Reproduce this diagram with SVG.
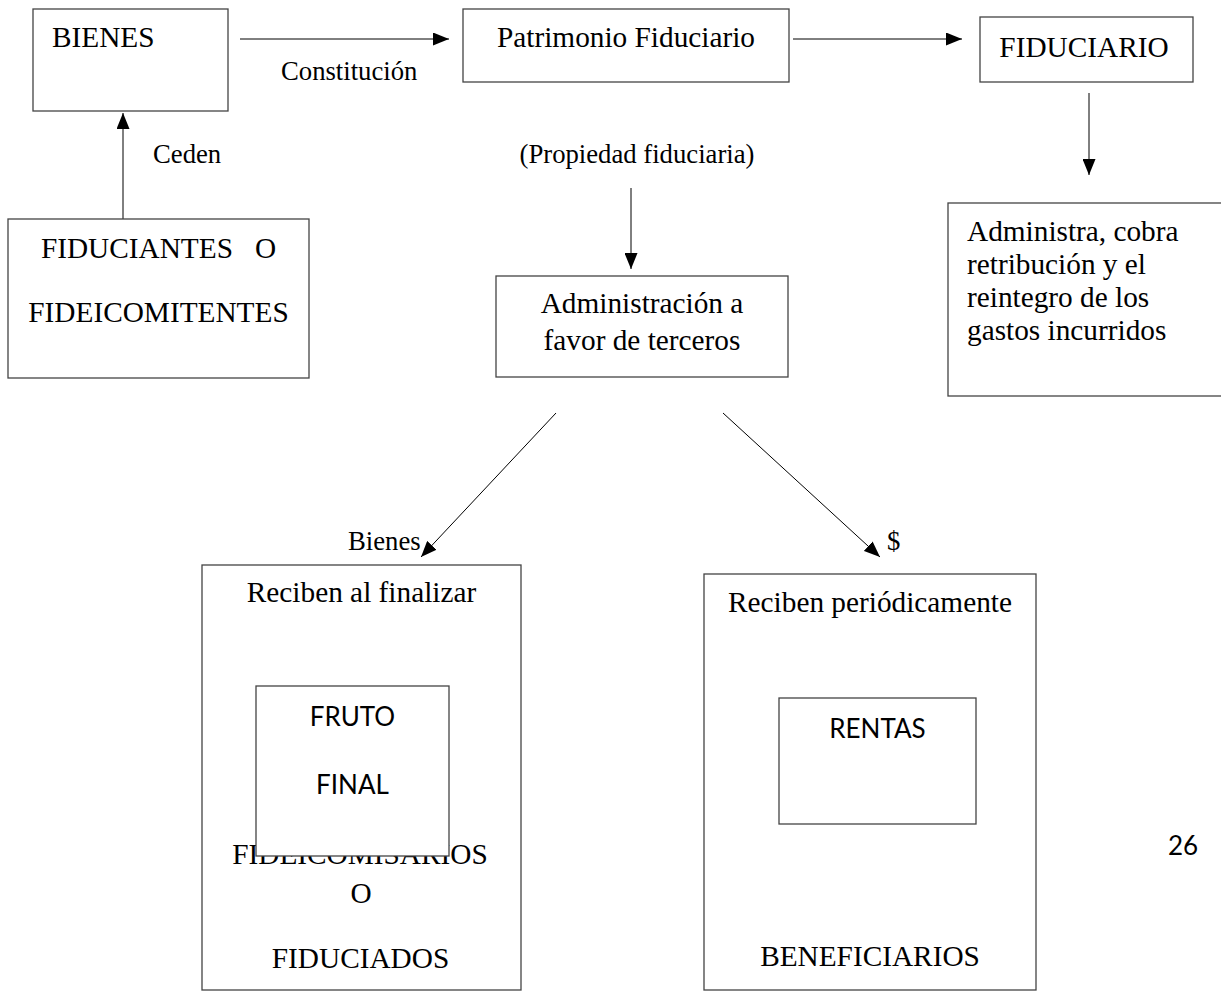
<svg xmlns="http://www.w3.org/2000/svg" width="1221" height="991" viewBox="0 0 1221 991">
<style>
.bx{fill:#fff;stroke:#444;stroke-width:1.3}
.t{font-family:"Liberation Serif","Times New Roman",serif;font-size:29.3px;fill:#000}
.l{font-family:"Liberation Serif","Times New Roman",serif;font-size:26.7px;fill:#000}
.s{font-family:Lato,"Open Sans","Liberation Sans",sans-serif;font-size:26px;fill:#000}
.m{text-anchor:middle}
.c{fill:none;stroke:#000;stroke-width:1}
</style>
<defs>
<marker id="ah" markerUnits="userSpaceOnUse" markerWidth="17" markerHeight="13" refX="16" refY="6.5" orient="auto">
<path d="M0,0 L16,6.5 L0,13 z" fill="#000"/>
</marker>
</defs>
<rect width="1221" height="991" fill="#fff"/>
<g id="connectors">
<line class="c" x1="240" y1="39" x2="449" y2="39" marker-end="url(#ah)"/>
<line class="c" x1="793" y1="39" x2="962" y2="39" marker-end="url(#ah)"/>
<line class="c" x1="1089" y1="93" x2="1089" y2="175" marker-end="url(#ah)"/>
<line class="c" x1="123" y1="219" x2="123" y2="113" stroke="#666" marker-end="url(#ah)"/>
<line class="c" x1="631" y1="188" x2="631" y2="269" marker-end="url(#ah)"/>
<line class="c" x1="556" y1="413" x2="421" y2="557" marker-end="url(#ah)"/>
<line class="c" x1="723" y1="413" x2="880" y2="557" marker-end="url(#ah)"/>
<text class="l" x="281" y="80">Constitución</text>
<text class="l" x="153" y="163">Ceden</text>
<text class="l m" x="637" y="163">(Propiedad fiduciaria)</text>
<text class="l" x="348" y="550">Bienes</text>
<text class="l" x="887" y="550">$</text>
</g>
<g id="bienes">
<rect class="bx" x="33" y="9" width="195" height="102"/>
<text class="t" x="52" y="47">BIENES</text>
</g>
<g id="patrimonio">
<rect class="bx" x="463" y="9" width="326" height="73"/>
<text class="t m" x="626" y="47">Patrimonio Fiduciario</text>
</g>
<g id="fiduciario">
<rect class="bx" x="980" y="17" width="213" height="65"/>
<text class="t m" x="1084" y="57">FIDUCIARIO</text>
</g>
<g id="administra">
<rect class="bx" x="948" y="203" width="300" height="193"/>
<text class="t" x="967" y="241">Administra, cobra</text>
<text class="t" x="967" y="274">retribución y el</text>
<text class="t" x="967" y="307">reintegro de los</text>
<text class="t" x="967" y="340">gastos incurridos</text>
</g>
<g id="fiduciantes">
<rect class="bx" x="8" y="219" width="301" height="159"/>
<text class="t m" x="158.5" y="258" xml:space="preserve">FIDUCIANTES   O</text>
<text class="t m" x="158.5" y="322">FIDEICOMITENTES</text>
</g>
<g id="administracion">
<rect class="bx" x="496" y="276" width="292" height="101"/>
<text class="t m" x="642" y="313">Administración a</text>
<text class="t m" x="642" y="350">favor de terceros</text>
</g>
<g id="fideicomisarios">
<rect class="bx" x="202" y="565" width="319" height="425"/>
<text class="t m" x="361.5" y="602">Reciben al finalizar</text>
<text class="t m" x="360" y="864">FIDEICOMISARIOS</text>
<text class="t m" x="361" y="903">O</text>
<text class="t m" x="360.5" y="968">FIDUCIADOS</text>
<g id="fruto">
<rect class="bx" x="256" y="686" width="193" height="170"/>
<text class="s m" x="352.5" y="726">FRUTO</text>
<text class="s m" x="352.5" y="794">FINAL</text>
</g>
</g>
<g id="beneficiarios">
<rect class="bx" x="704" y="574" width="332" height="416"/>
<text class="t m" x="870" y="612">Reciben periódicamente</text>
<g id="rentas">
<rect class="bx" x="779" y="698" width="197" height="126"/>
<text class="s m" x="877.5" y="738">RENTAS</text>
</g>
<text class="t m" x="870" y="966">BENEFICIARIOS</text>
</g>
<text class="s" x="1168" y="855">26</text>
</svg>
